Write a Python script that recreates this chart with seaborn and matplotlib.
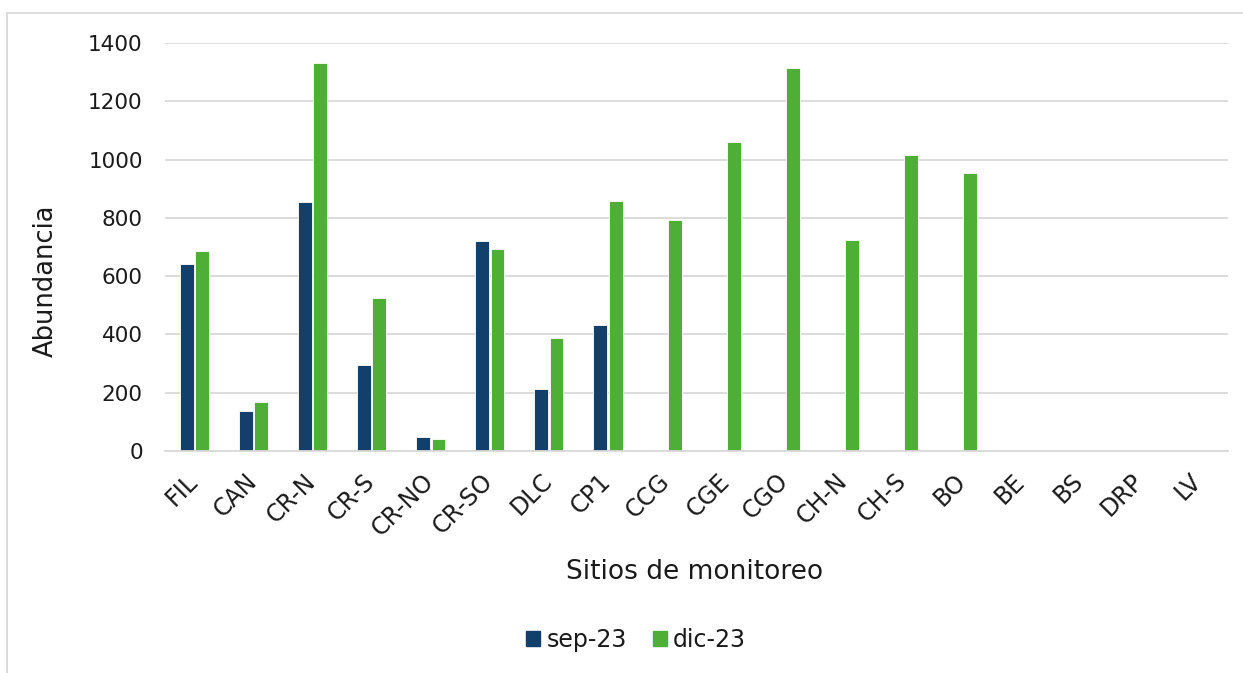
import matplotlib
matplotlib.use("Agg")
import matplotlib.pyplot as plt
import matplotlib.patches as mpatches
import matplotlib.transforms as mtransforms
import seaborn as sns
import pandas as pd
import numpy as np

# Monitoring sites and abundance per sampling campaign
sites = ["FIL", "CAN", "CR-N", "CR-S", "CR-NO", "CR-SO", "DLC", "CP1", "CCG",
         "CGE", "CGO", "CH-N", "CH-S", "BO", "BE", "BS", "DRP", "LV"]
sep_23 = [641, 137, 855, 295, 48, 720, 213, 432, np.nan, np.nan, np.nan,
          np.nan, np.nan, np.nan, np.nan, np.nan, np.nan, np.nan]
dic_23 = [686, 168, 1331, 525, 41, 693, 388, 858, 793, 1060, 1314,
          724, 1016, 954, np.nan, np.nan, np.nan, np.nan]
series_names = ["sep-23", "dic-23"]
series_colors = ["#133F6B", "#4FAE35"]
y_ticks = [0, 200, 400, 600, 800, 1000, 1200, 1400]

df = pd.DataFrame({
    "Sitio": sites * 2,
    "Periodo": [series_names[0]] * len(sites) + [series_names[1]] * len(sites),
    "Abundancia": sep_23 + dic_23,
})

sns.set_theme(style="white")
plt.rcParams["font.family"] = ["DejaVu Sans"]

W, H = 1243, 673
AX_L, AX_R, AX_T, AX_B = 165, 1228, 43, 451
fig = plt.figure(figsize=(W / 100, H / 100), dpi=100)
ax = fig.add_axes([AX_L / W, 1 - AX_B / H, (AX_R - AX_L) / W, (AX_B - AX_T) / H])

sns.barplot(data=df, x="Sitio", y="Abundancia", hue="Periodo", order=sites,
            hue_order=series_names, palette=series_colors, saturation=1,
            width=0.52, gap=0.1, edgecolor="white", linewidth=0.6, ax=ax,
            legend=False, errorbar=None)

text_color = "#1a1a1a"
ax.set_ylim(0, 1400)
ax.set_xlim(-0.5, len(sites) - 0.5)
ax.set_yticks(y_ticks)
ax.set_yticklabels([str(t) for t in y_ticks], fontsize=15.5, color=text_color)
ax.yaxis.grid(True, color="#D9D9D9", linewidth=1.3)
ax.set_axisbelow(True)
for s in ["top", "right", "left"]:
    ax.spines[s].set_visible(False)
ax.spines["bottom"].set_color("#D9D9D9")
ax.spines["bottom"].set_linewidth(1.3)
ax.tick_params(axis="both", length=0)
ax.tick_params(axis="y", pad=16)
ax.set_xticks(range(len(sites)))
ax.set_xticklabels(sites, rotation=45, ha="right", rotation_mode="anchor",
                   fontsize=17, color=text_color)
ax.tick_params(axis="x", pad=13)
# nudge the rotated site labels so their ends sit under each group
shift = mtransforms.ScaledTranslation(-9 / 100, 0, fig.dpi_scale_trans)
for lbl in ax.get_xticklabels():
    lbl.set_transform(lbl.get_transform() + shift)

ax.set_xlabel("Sitios de monitoreo", fontsize=19, color=text_color, va="center")
ax.xaxis.set_label_coords((695 - AX_L) / (AX_R - AX_L), (AX_B - 572) / (AX_B - AX_T))
ax.set_ylabel("Abundancia", fontsize=18.5, color=text_color, va="center")
ax.yaxis.set_label_coords((46 - AX_L) / (AX_R - AX_L), (AX_B - 281) / (AX_B - AX_T))

handles = [mpatches.Patch(color=c, label=n) for c, n in zip(series_colors, series_names)]
fig.legend(handles=handles, loc="center", bbox_to_anchor=(636 / W, 1 - 640 / H),
           ncol=2, frameon=False, fontsize=17, handlelength=0.6, handleheight=0.6,
           handletextpad=0.25, columnspacing=1.1, labelcolor=text_color)

# Chart frame
fig.patches.append(mpatches.Rectangle((7 / W, -0.01), 1.1, 1 - 13 / H + 0.01,
                                      transform=fig.transFigure, fill=False,
                                      edgecolor="#D9D9D9", linewidth=1.3))

fig.savefig("out.png", dpi=100)
